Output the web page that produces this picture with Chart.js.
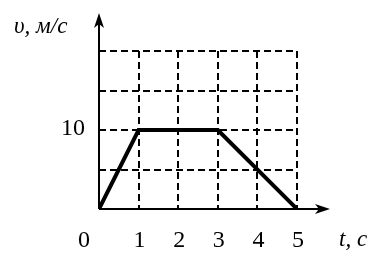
<!DOCTYPE html>
<html>
<head>
<meta charset="utf-8">
<script src="https://cdn.jsdelivr.net/npm/chart.js@4"></script>
<style>
  html, body { margin: 0; padding: 0; background: #fff; }
  #box { width: 382px; height: 256px; position: relative; }
</style>
</head>
<body>
<div id="box"><canvas id="speedChart"></canvas></div>
<script>
// данные графика скорости
var timeValues = [0, 1, 3, 5];
var speedValues = [0, 10, 10, 0];
var xTickLabels = ['0', '1', '2', '3', '4', '5'];
var yTickLabels = ['10'];
var xTitle = 't, c';
var yTitle = 'υ, м/с';

var serif = "'Liberation Serif', 'DejaVu Serif', serif";

// оси со стрелками и подписи
var axesPlugin = {
    id: 'axesArrows',
    afterDatasetsDraw: function(chart) {
        var ctx = chart.ctx;
        var xs = chart.scales.x, ys = chart.scales.y;
        var x0 = xs.getPixelForValue(0), y0 = ys.getPixelForValue(0);
        var xTip = 330, yTip = 13;
        ctx.save();
        ctx.strokeStyle = '#000';
        ctx.fillStyle = '#000';
        ctx.lineWidth = 2;
        ctx.beginPath();
        ctx.moveTo(x0, y0);
        ctx.lineTo(xTip - 4, y0);
        ctx.moveTo(x0, y0);
        ctx.lineTo(x0, yTip + 4);
        ctx.stroke();
        // стрелка по x
        ctx.beginPath();
        ctx.moveTo(xTip, y0);
        ctx.lineTo(xTip - 15, y0 - 5);
        ctx.lineTo(xTip - 11, y0);
        ctx.lineTo(xTip - 15, y0 + 5);
        ctx.closePath();
        ctx.fill();
        // стрелка по y
        ctx.beginPath();
        ctx.moveTo(x0, yTip);
        ctx.lineTo(x0 - 5, yTip + 15);
        ctx.lineTo(x0, yTip + 11);
        ctx.lineTo(x0 + 5, yTip + 15);
        ctx.closePath();
        ctx.fill();

        // подписи делений
        ctx.font = '24px ' + serif;
        ctx.textBaseline = 'middle';
        ctx.textAlign = 'center';
        for (var i = 0; i < xTickLabels.length; i++) {
            var px = xs.getPixelForValue(i);
            if (i === 0) px -= 16;
            ctx.fillText(xTickLabels[i], px + 1, 241);
        }
        for (var j = 0; j < yTickLabels.length; j++) {
            var py = ys.getPixelForValue(Number(yTickLabels[j]));
            ctx.fillText(yTickLabels[j], 73, py - 1);
        }
        // названия осей
        ctx.font = 'italic 23px ' + serif;
        ctx.textAlign = 'left';
        ctx.fillText(xTitle, 339, 240);
        ctx.fillText(yTitle, 14, 27);
        ctx.restore();
    }
};

var ctx = document.getElementById('speedChart');
var chart = new Chart(ctx, {
    type: 'line',
    data: {
        labels: timeValues,
        datasets: [{
            data: timeValues.map(function(t, i) { return { x: t, y: speedValues[i] }; }),
            borderColor: '#000',
            borderWidth: 4,
            pointRadius: 0,
            fill: false,
            tension: 0,
            borderJoinStyle: 'miter'
        }]
    },
    options: {
        responsive: true,
        maintainAspectRatio: false,
        animation: false,
        layout: { padding: { left: 99, top: 51, right: 85, bottom: 47 } },
        plugins: { legend: { display: false }, tooltip: { enabled: false } },
        scales: {
            x: {
                type: 'linear',
                min: 0, max: 5,
                ticks: { display: false, stepSize: 1 },
                grid: { color: '#000', lineWidth: 2, drawTicks: false },
                border: { display: false, dash: [7, 4] }
            },
            y: {
                type: 'linear',
                min: 0, max: 20,
                ticks: { display: false, stepSize: 5 },
                grid: { color: '#000', lineWidth: 2, drawTicks: false },
                border: { display: false, dash: [7, 4] }
            }
        }
    },
    plugins: [axesPlugin]
});
</script>
</body>
</html>
